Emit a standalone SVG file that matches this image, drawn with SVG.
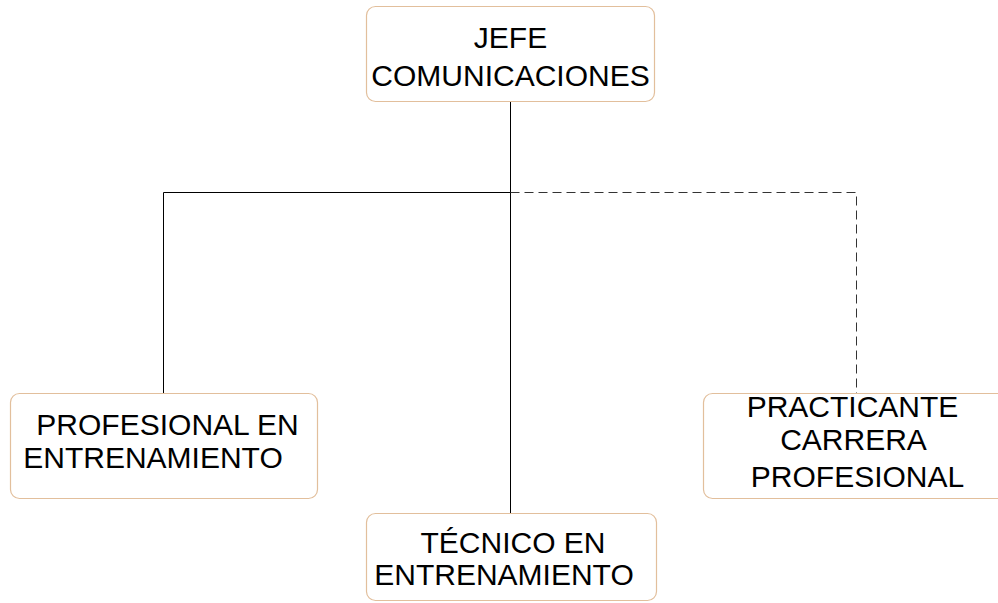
<svg xmlns="http://www.w3.org/2000/svg" width="998" height="603" viewBox="0 0 998 603">
<style>
.box{fill:#ffffff;stroke:#e2bf9c;stroke-width:1.2}
.t{font-family:"Liberation Sans",Arial,sans-serif;font-size:30px;fill:#000;text-anchor:middle}
.ln{stroke:#000;stroke-width:1;fill:none}
.dl{stroke:#333;stroke-width:1;fill:none;stroke-dasharray:9 5}
</style>
<rect width="998" height="603" fill="#ffffff"/>
<g id="connectors">
<line class="ln" x1="510.5" y1="101" x2="510.5" y2="513"/>
<polyline class="ln" points="163.5,393 163.5,192.5 510.5,192.5"/>
<polyline class="dl" points="510.5,192.5 856.5,192.5 856.5,393"/>
</g>
<g id="jefe">
<rect class="box" x="366.5" y="6.5" width="288" height="95" rx="9"/>
<text class="t" x="510.5" y="48">JEFE</text>
<text class="t" x="510.5" y="86">COMUNICACIONES</text>
</g>
<g id="profesional">
<rect class="box" x="10.5" y="393.5" width="307" height="105" rx="9"/>
<text class="t" x="167.5" y="435">PROFESIONAL EN</text>
<text class="t" x="153" y="468">ENTRENAMIENTO</text>
</g>
<g id="practicante">
<rect class="box" x="703.5" y="393.5" width="310" height="105" rx="9"/>
<text class="t" x="852.5" y="417">PRACTICANTE</text>
<text class="t" x="853.5" y="450">CARRERA</text>
<text class="t" x="857.5" y="487">PROFESIONAL</text>
</g>
<g id="tecnico">
<rect class="box" x="366.5" y="513.5" width="290" height="87" rx="9"/>
<text class="t" x="513" y="553">TÉCNICO EN</text>
<text class="t" x="504" y="585">ENTRENAMIENTO</text>
</g>
</svg>
